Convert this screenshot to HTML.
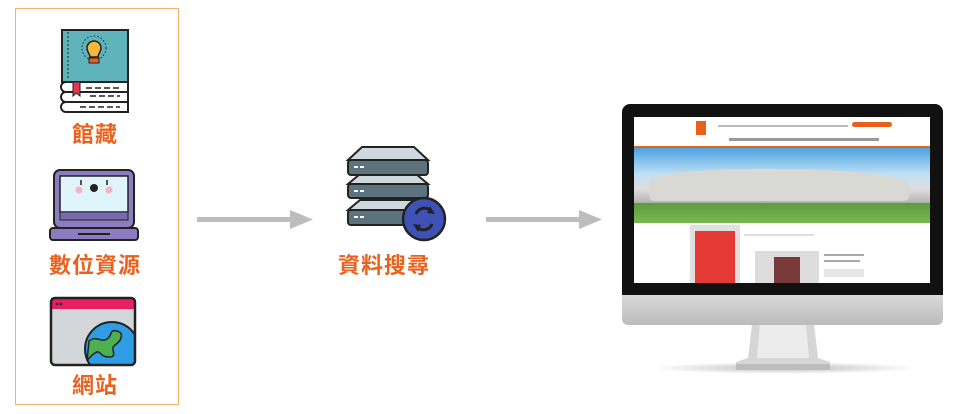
<!DOCTYPE html>
<html><head><meta charset="utf-8"><style>
body{margin:0;width:960px;height:414px;background:#fff;position:relative;overflow:hidden;font-family:"Liberation Sans","Noto Sans CJK TC",sans-serif}
.a{position:absolute}
.lbl{position:absolute;color:#e8621e;font-size:22px;font-weight:bold;letter-spacing:1px;text-align:center;font-family:"Noto Sans CJK TC",sans-serif}
</style></head><body>
<div class="a" style="left:15px;top:8px;width:162px;height:395px;border:1px solid #f5b06a"></div>

<svg class="a" style="left:60px;top:28px" width="72" height="88" viewBox="0 0 72 88">
<rect x="2" y="2" width="66" height="52" fill="#5fb3ba" stroke="#222" stroke-width="2"/>
<line x1="8" y1="4" x2="8" y2="52" stroke="#222" stroke-dasharray="2 2"/>
<circle cx="34" cy="20" r="12" fill="none" stroke="#222" stroke-dasharray="1.5 2"/>
<path d="M27 20a7 7 0 1 1 14 0c0 4-3 6-3 9h-8c0-3-3-5-3-9z" fill="#f6b73c" stroke="#222" stroke-width="1.5"/>
<rect x="29" y="30" width="10" height="5" fill="#e8601c" stroke="#222"/>
<path d="M2 54h66v10H6a5 5 0 0 1 0-10z" fill="#fff" stroke="#222" stroke-width="2"/>
<path d="M2 64h66v10H6a5 5 0 0 1 0-10z" fill="#fff" stroke="#222" stroke-width="2"/>
<path d="M2 74h66v10H6a5 5 0 0 1 0-10z" fill="#fff" stroke="#222" stroke-width="2"/>
<path d="M13 54h7v14l-3.5-3-3.5 3z" fill="#e63950" stroke="#222"/>
<path d="M26 60h36M30 68h30M20 79h40" stroke="#222" stroke-width="1.5" stroke-dasharray="6 3"/>
</svg>
<div class="lbl" style="left:50px;top:117px;width:90px">館藏</div>

<svg class="a" style="left:48px;top:168px" width="94" height="76" viewBox="0 0 94 76">
<rect x="6" y="2" width="80" height="58" rx="6" fill="#8e7cc3" stroke="#222" stroke-width="2"/>
<rect x="12" y="8" width="68" height="36" fill="#dff4fb" stroke="#222" stroke-width="1.5"/>
<rect x="12" y="44" width="68" height="8" fill="#7a68b0" stroke="#222"/>
<circle cx="31" cy="22" r="3.5" fill="#f5b4c0"/><circle cx="61" cy="22" r="3.5" fill="#f5b4c0"/>
<circle cx="46" cy="20" r="4" fill="#222"/>
<line x1="33" y1="12" x2="33" y2="17" stroke="#222" stroke-width="1.5"/><line x1="59" y1="12" x2="59" y2="17" stroke="#222" stroke-width="1.5"/>
<rect x="2" y="60" width="88" height="12" rx="3" fill="#8e7cc3" stroke="#222" stroke-width="2"/>
<line x1="30" y1="66" x2="62" y2="66" stroke="#222" stroke-width="2"/>
</svg>
<div class="lbl" style="left:45px;top:248px;width:100px">數位資源</div>

<svg class="a" style="left:49px;top:296px" width="88" height="72" viewBox="0 0 88 72">
<defs><clipPath id="c"><rect x="2" y="2" width="84" height="67" rx="4"/></clipPath></defs>
<rect x="2" y="2" width="84" height="67" rx="4" fill="#d3d7da" stroke="#222" stroke-width="2"/>
<rect x="2" y="2" width="84" height="11" fill="#e91e63"/>
<circle cx="8" cy="8" r="1.3" fill="#222"/><circle cx="12" cy="8" r="1.3" fill="#222"/>
<g clip-path="url(#c)"><circle cx="63" cy="53" r="27" fill="#2f9de3" stroke="#222" stroke-width="2"/>
<path d="M40 45c8-6 12 2 18-2s2-10 10-8 4 10 -2 14 4 12-6 12-8-8-14-4-8 8-8 8z" fill="#4caf50" stroke="#222" stroke-width="1.5"/></g>
<rect x="2" y="2" width="84" height="67" rx="4" fill="none" stroke="#222" stroke-width="2.5"/>
</svg>
<div class="lbl" style="left:50px;top:368px;width:90px">網站</div>

<svg class="a" style="left:195px;top:208px" width="120" height="24"><rect x="2" y="9" width="94" height="5" fill="#bdbdbd"/><polygon points="95,2 118,11.5 95,21" fill="#bdbdbd"/></svg>
<svg class="a" style="left:484px;top:208px" width="120" height="24"><rect x="2" y="9" width="94" height="5" fill="#bdbdbd"/><polygon points="95,2 118,11.5 95,21" fill="#bdbdbd"/></svg>

<svg class="a" style="left:346px;top:144px" width="102" height="100" viewBox="0 0 102 100">
<g stroke="#222" stroke-width="2">
<path d="M2 40l12-10h56l12 10z" fill="#cfd8dc"/><rect x="2" y="40" width="80" height="14" rx="3" fill="#5c737d"/>
<path d="M2 66l12-10h56l12 10z" fill="#cfd8dc"/><rect x="2" y="66" width="80" height="15" rx="3" fill="#5c737d"/>
<path d="M2 16l14-13h52l14 13z" fill="#cfd8dc"/><rect x="2" y="16" width="80" height="15" rx="3" fill="#5c737d"/>
</g>
<g fill="#fff"><rect x="8" y="22" width="4" height="2"/><rect x="14" y="22" width="4" height="2"/><rect x="8" y="46" width="4" height="2"/><rect x="14" y="46" width="4" height="2"/><rect x="8" y="72" width="4" height="2"/><rect x="14" y="72" width="4" height="2"/></g>
<circle cx="78" cy="75" r="21" fill="#3f51b5" stroke="#222" stroke-width="2.5"/>
<path d="M70 70a9 9 0 0 1 15-3M86 80a9 9 0 0 1-15 3" fill="none" stroke="#222" stroke-width="3"/>
<polygon points="84,62 89,70 81,69" fill="#222"/><polygon points="72,88 67,80 75,81" fill="#222"/>
</svg>
<div class="lbl" style="left:333px;top:248px;width:102px">資料搜尋</div>

<div class="a" style="left:650px;top:362px;width:270px;height:12px;border-radius:50%;background:radial-gradient(ellipse,#bbb,rgba(255,255,255,0) 70%)"></div>
<svg class="a" style="left:730px;top:324px" width="106" height="48"><path d="M22 0h62l4 34 12 4v6H6v-6l12-4z" fill="#d6d6d6"/><path d="M30 0h46l3 34H27z" fill="#ececec"/><rect x="6" y="40" width="94" height="6" fill="#bcbcbc"/></svg>
<div class="a" style="left:622px;top:104px;width:321px;height:192px;background:#111;border-radius:8px 8px 0 0"></div>
<div class="a" style="left:622px;top:295px;width:321px;height:30px;background:linear-gradient(#dadada,#bcbcbc);border-radius:0 0 6px 6px"></div>
<div class="a" style="left:634px;top:117px;width:296px;height:166px;background:#fff;overflow:hidden">
 <div class="a" style="left:62px;top:4px;width:10px;height:14px;background:#e8601c"></div>
 <div class="a" style="left:84px;top:8px;width:130px;height:2px;background:#bbb"></div>
 <div class="a" style="left:218px;top:5px;width:40px;height:5px;background:#e8601c;border-radius:3px"></div>
 <div class="a" style="left:95px;top:21px;width:150px;height:3px;background:#999"></div>
 <div class="a" style="left:0;top:29px;width:296px;height:2px;background:#e8601c"></div>
 <div class="a" style="left:0;top:31px;width:296px;height:75px;background:linear-gradient(#4aa3e0 0%,#bfe0f5 35%,#ddd 55%,#bbb 70%,#5e9a40 85%,#7ab84e 100%)"></div>
 <div class="a" style="left:15px;top:52px;width:260px;height:32px;background:#d8d8d4;border-radius:40% 50% 5px 5px"></div>
 <div class="a" style="left:0;top:86px;width:296px;height:20px;background:linear-gradient(#5e9a40,#7ab84e)"></div>
 <div class="a" style="left:56px;top:108px;width:50px;height:60px;background:#e0e0e0"></div>
 <div class="a" style="left:61px;top:114px;width:40px;height:52px;background:#e53935"></div>
 <div class="a" style="left:110px;top:117px;width:70px;height:2px;background:#ddd"></div>
 <div class="a" style="left:121px;top:134px;width:64px;height:40px;background:#ddd"></div>
 <div class="a" style="left:140px;top:140px;width:26px;height:30px;background:#7a3a3a"></div>
 <div class="a" style="left:190px;top:137px;width:40px;height:2px;background:#aaa"></div>
 <div class="a" style="left:190px;top:143px;width:36px;height:2px;background:#aaa"></div>
 <div class="a" style="left:190px;top:152px;width:40px;height:8px;background:#e6e6e6"></div>
</div>
</body></html>
